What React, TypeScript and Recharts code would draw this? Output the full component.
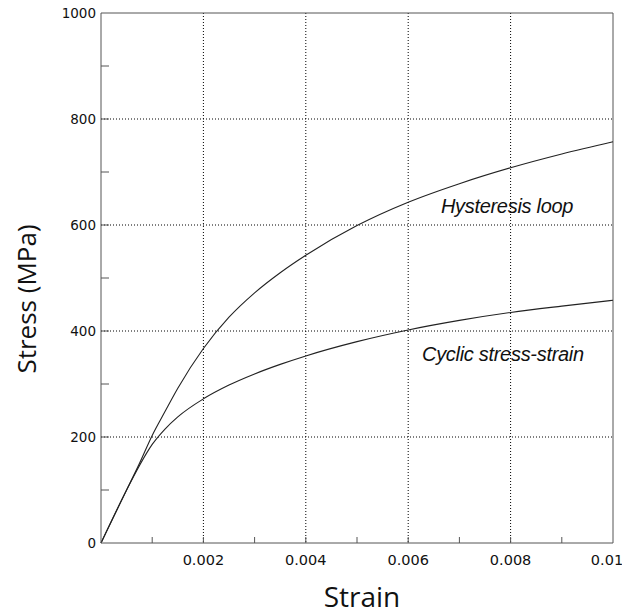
import React from 'react';
import {
  LineChart,
  Line,
  XAxis,
  YAxis,
  CartesianGrid,
  ReferenceLine,
  ReferenceDot,
} from 'recharts';

// strain values (x) and stress readings (MPa) for both curves
const strain = [0, 0.0005, 0.00075, 0.001, 0.00125, 0.0015, 0.002, 0.0025, 0.003, 0.0035, 0.004, 0.005, 0.006, 0.007, 0.008, 0.009, 0.01];
const hysteresis = [0, 100, 150, 203, 248, 292, 367, 426, 472, 510, 543, 599, 643, 678, 708, 734, 757];
const cyclic = [0, 100, 146, 186, 215, 238, 272, 298, 319, 337, 353, 380, 402, 420, 435, 447, 458];

// ticks: every one gets a tick mark, only the listed ones get a label
const xTicks = [0.001, 0.002, 0.003, 0.004, 0.005, 0.006, 0.007, 0.008, 0.009, 0.01];
const xLabels = ['0.002', '0.004', '0.006', '0.008', '0.01'];
const yTicks = [0, 100, 200, 300, 400, 500, 600, 700, 800, 900, 1000];
const yLabels = ['0', '200', '400', '600', '800', '1000'];
const gridX = [0.002, 0.004, 0.006, 0.008];
const gridY = [200, 400, 600, 800];

const data = strain.map((s, i) => ({ strain: s, hysteresis: hysteresis[i], cyclic: cyclic[i] }));

const AXIS = '#555';
const TICK_FONT = '"DejaVu Sans", sans-serif';

const fmtX = (v: number) => Number(v.toFixed(3)).toString();

const XTick = (props: any) => {
  const { x, y, payload } = props;
  const label = fmtX(payload.value);
  const show = xLabels.includes(label);
  const isEnd = payload.value >= 0.01;
  return (
    <g>
      {!isEnd && <line x1={x} y1={y} x2={x} y2={y - 6} stroke={AXIS} strokeWidth={1} />}
      {show && (
        <text
          x={isEnd ? x - 6 : x}
          y={y + 22}
          textAnchor="middle"
          fontSize={14.5}
          fontFamily={TICK_FONT}
          fill="#111"
        >
          {label}
        </text>
      )}
    </g>
  );
};

const YTick = (props: any) => {
  const { x, y, payload } = props;
  const label = String(payload.value);
  const show = yLabels.includes(label);
  const isEdge = payload.value === 0 || payload.value === 1000;
  return (
    <g>
      {!isEdge && <line x1={x} y1={y} x2={x + 8} y2={y} stroke={AXIS} strokeWidth={1} />}
      {show && (
        <text x={x - 5} y={y + 5} textAnchor="end" fontSize={13.5} fontFamily={TICK_FONT} fill="#111">
          {label}
        </text>
      )}
    </g>
  );
};

const YTitle = () => (
  <text
    x={0}
    y={0}
    transform="translate(36, 299) rotate(-90)"
    textAnchor="middle"
    fontSize={26}
    fontFamily='"Open Sans", sans-serif'
    fill="#111"
  >
    Stress (MPa)
  </text>
);

const XTitle = () => (
  <text x={362} y={607} textAnchor="middle" fontSize={28} fontFamily='"Open Sans", sans-serif' fill="#111">
    Strain
  </text>
);

const note = (text: string) => (props: any) => {
  const { viewBox } = props;
  return (
    <text
      x={viewBox.x}
      y={viewBox.y + 7}
      textAnchor="middle"
      fontSize={20}
      fontStyle="italic"
      fontFamily='"Liberation Sans", Arial, sans-serif'
      letterSpacing={-0.3}
      fill="#111"
    >
      {text}
    </text>
  );
};

export default function App() {
  return (
    <div style={{ position: 'absolute', left: 0, top: 0, background: '#fff' }}>
      <LineChart width={622} height={616} data={data} margin={{ top: 13, right: 9, left: 0, bottom: 0 }}>
        <CartesianGrid
          stroke="#000"
          strokeDasharray="1 2"
          horizontalValues={gridY}
          verticalValues={gridX}
        />
        <XAxis
          dataKey="strain"
          type="number"
          domain={[0, 0.01]}
          ticks={xTicks}
          interval={0}
          height={73}
          tickSize={0}
          tickLine={false}
          tickMargin={0}
          tick={<XTick />}
          axisLine={{ stroke: AXIS }}
          label={<XTitle />}
        />
        <YAxis
          type="number"
          domain={[0, 1000]}
          ticks={yTicks}
          interval={0}
          width={101}
          tickSize={0}
          tickLine={false}
          tickMargin={0}
          tick={<YTick />}
          axisLine={{ stroke: AXIS }}
          label={<YTitle />}
        />
        <ReferenceLine y={1000} stroke={AXIS} strokeWidth={1} />
        <ReferenceLine x={0.01} stroke={AXIS} strokeWidth={1} />
        <Line
          type="monotone"
          dataKey="hysteresis"
          stroke="#222"
          strokeWidth={1.1}
          dot={false}
          isAnimationActive={false}
        />
        <Line
          type="monotone"
          dataKey="cyclic"
          stroke="#222"
          strokeWidth={1.1}
          dot={false}
          isAnimationActive={false}
        />
        <ReferenceDot x={0.00793} y={636} r={0} stroke="none" fill="none" label={note('Hysteresis loop')} />
        <ReferenceDot x={0.00785} y={357} r={0} stroke="none" fill="none" label={note('Cyclic stress-strain')} />
      </LineChart>
    </div>
  );
}
